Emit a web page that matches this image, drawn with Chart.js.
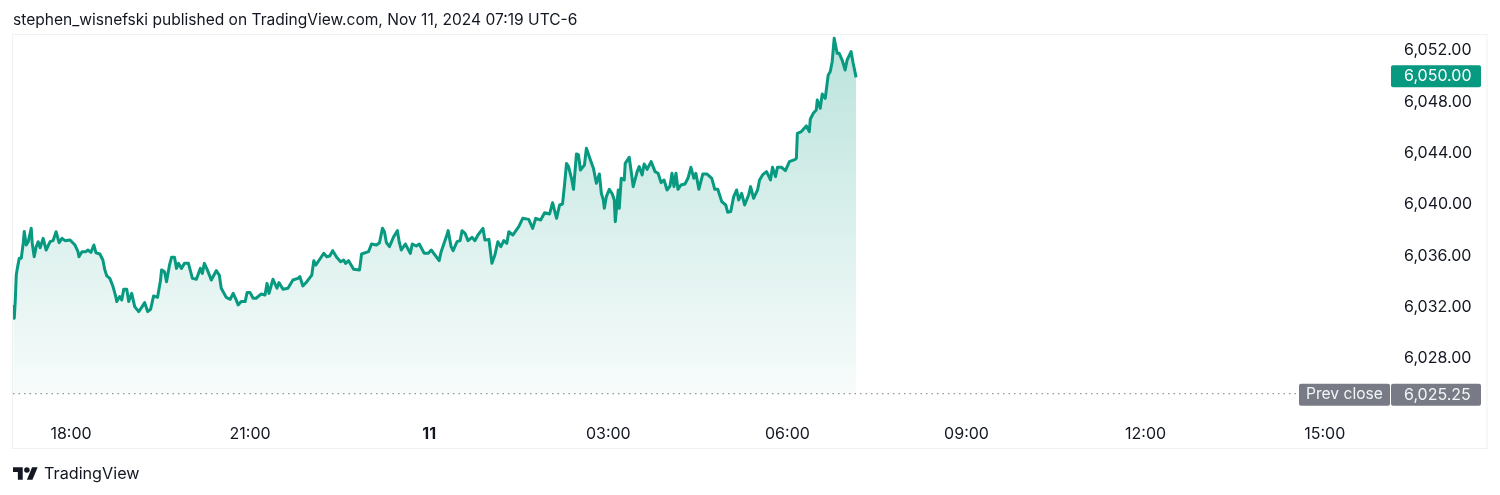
<!DOCTYPE html>
<html>
<head>
<meta charset="utf-8">
<title>ES price chart</title>
<script src="https://cdn.jsdelivr.net/npm/chart.js@4"></script>
<style>
  html, body { margin: 0; padding: 0; background: #fff; }
  body { width: 1500px; height: 495px; position: relative; overflow: hidden; font-family: Inter, sans-serif; color: #131722; }
  #wrap { position: absolute; left: 0; top: 0; width: 1500px; height: 495px; }
  #published { position: absolute; left: 13px; top: 11px; font-size: 15.55px; line-height: 18px; white-space: nowrap; }
  #brand { position: absolute; left: 13px; top: 462px; height: 22px; display: flex; align-items: center; }
  #brand svg { width: 25px; height: 13px; margin-right: 6px; }
  #brand span { font-size: 16.2px; line-height: 22px; }
</style>
</head>
<body>
<div id="wrap"><canvas id="chart" width="1500" height="495"></canvas></div>
<div id="published">stephen_wisnefski published on TradingView.com, Nov 11, 2024 07:19 UTC-6</div>
<div id="brand">
  <svg viewBox="0 4 36 18"><path fill="#131722" d="M14 22H7V11H0V4h14v18zM28 22h-8l7.5-18h8L28 22z"/><circle fill="#131722" cx="20" cy="8" r="4"/></svg>
  <span>TradingView</span>
</div>
<script>
// minutes counted from 18:00 on Nov 10
const minutes = [
  -58,-57,-56,-55,-54,-52,-50,-48,-47,-45,-43,-40,-39,-37,-35,-33,-31,-28,-25,-21,
  -18,-15,-12,-9,-6,-1,4,7,8,11,15,17,20,23,25,29,32,34,36,39,
  42,45,46,49,51,53,56,58,61,64,68,71,74,77,80,83,87,90,91,94,
  96,99,101,104,106,108,111,114,118,122,126,130,132,134,137,141,146,149,151,156,
  160,163,166,168,171,175,177,180,183,186,191,195,197,199,203,207,209,213,218,223,
  228,230,233,237,242,244,246,250,254,257,260,263,267,271,274,276,279,284,290,292,
  299,302,307,310,313,315,317,320,324,328,330,332,336,341,343,347,350,355,359,362,
  367,370,372,377,379,382,384,388,391,393,396,399,403,406,409,414,416,420,423,426,
  429,432,435,438,440,444,450,454,460,464,467,472,476,481,484,488,491,
  494,496,498,500,503,505,508,510,512,516,518,522,525,528,531,533,535,536,538,541,
  544,546,547,550,551,553,556,557,561,563,565,569,571,574,576,579,583,587,590,593,
  596,599,602,604,606,608,610,613,617,620,623,626,628,631,635,639,644,647,650,654,
  658,660,663,666,669,671,674,677,681,683,686,690,692,695,699,703,705,708,710,714,
  718,722,728,729,730,734,739,742,743,746,749,750,753,755,758,761,763,765,767,770,
  772,775,778,780,784,786,789
];
const prices = [
  6032.17,6031.13,6032.56,6034.5,6035.0,6035.8,6035.8,6037.0,6037.9,6036.84,6037.1,6038.14,6037.0,6035.93,6036.7,6037.1,6036.63,6037.36,6036.45,6037.1,
  6037.18,6037.88,6037.02,6037.36,6037.18,6037.23,6036.84,6036.32,6035.93,6036.32,6036.32,6036.45,6036.27,6036.84,6036.24,6036.14,6035.67,6034.9,6034.43,6034.24,
  6033.65,6032.82,6032.43,6032.82,6032.56,6033.39,6033.39,6032.43,6033.07,6032.04,6031.65,6031.98,6032.35,6031.65,6031.83,6032.87,6032.76,6034.11,6034.9,6034.76,
  6033.98,6035.28,6035.88,6035.88,6035.02,6035.41,6035.02,6035.41,6035.41,6034.24,6034.17,6035.02,6034.63,6035.41,6034.9,6034.11,6034.84,6034.5,6033.47,6032.76,
  6032.61,6033.07,6032.56,6032.17,6032.43,6032.43,6033.13,6033.13,6032.69,6032.69,6033.02,6032.95,6033.85,6033.07,6034.17,6033.47,6033.91,6033.39,6033.47,6034.11,
  6034.24,6034.37,6033.65,6033.98,6034.5,6035.62,6035.28,6035.73,6036.19,6035.93,6035.98,6036.4,6035.88,6035.54,6035.67,6035.41,6035.62,6034.95,6034.9,6036.14,
  6036.32,6036.92,6036.84,6037.02,6038.14,6037.88,6037.02,6036.71,6037.44,6037.96,6037.02,6036.45,6036.92,6036.19,6036.92,6036.76,6036.92,6036.19,6036.19,6036.45,
  6035.93,6035.62,6036.32,6037.44,6037.96,6036.71,6036.4,6037.1,6037.18,6037.96,6037.75,6037.18,6037.44,6037.18,6037.62,6038.14,6037.23,6037.28,6035.41,6036.06,
  6037.1,6036.71,6037.18,6036.97,6037.88,6037.62,6038.27,6038.92,6038.84,6038.14,6038.92,6038.79,6039.36,6039.26,6040.14,6038.92,6039.96,
  6040.04,6041.52,6043.2,6042.95,6042.04,6041.18,6043.94,6043.86,6042.69,6043.08,6044.38,6043.47,6042.82,6041.65,6042.38,6040.87,6040.35,6039.7,6040.61,6041.18,
  6040.82,6040.35,6038.66,6041.13,6039.7,6042.04,6041.91,6043.2,6043.68,6042.56,6041.39,6042.56,6042.95,6042.3,6043.16,6042.74,6043.34,6042.56,6042.43,6041.7,
  6041.91,6041.13,6041.44,6042.43,6041.39,6042.43,6041.18,6041.52,6041.6,6042.04,6042.9,6042.04,6042.43,6041.18,6042.38,6042.38,6042.04,6041.18,6041.18,6040.22,
  6039.96,6039.39,6039.44,6040.61,6041.13,6040.35,6040.87,6039.96,6040.74,6041.39,6040.48,6041.13,6041.91,6042.3,6042.56,6041.91,6042.9,6042.17,6042.9,6042.9,
  6042.64,6043.34,6043.52,6043.6,6045.55,6045.68,6046.12,6045.68,6046.64,6047.11,6047.36,6048.14,6047.5,6048.61,6048.27,6050.09,6050.35,6051.13,6052.95,6051.78,
  6051.78,6051.26,6050.48,6051.26,6051.91,6051.05,6049.91
];
const tickMinutes = [0, 180, 360, 540, 720, 900, 1080, 1260];
const tickLabels = ['18:00', '21:00', '11', '03:00', '06:00', '09:00', '12:00', '15:00'];
const priceTicks = [6028, 6032, 6036, 6040, 6044, 6048, 6052];
const lastPrice = 6050;
const prevClose = 6025.25;

const GREEN = '#089981';
const GREY = '#787b86';
const INK = '#131722';
const X_MIN = -58.3, X_MAX = 1325.6;
const Y_MIN = 6023.59, Y_MAX = 6053.21;

function fmtPrice(v) {
  return v.toLocaleString('en-US', { minimumFractionDigits: 2, maximumFractionDigits: 2 });
}

function badge(ctx, left, right, midY, color, text, textColor, textX, font) {
  ctx.fillStyle = color;
  ctx.beginPath();
  ctx.roundRect(left, midY - 11, right - left, 22, 2);
  ctx.fill();
  ctx.fillStyle = textColor;
  ctx.font = font;
  ctx.textBaseline = 'middle';
  ctx.textAlign = 'left';
  ctx.fillText(text, textX, midY);
}

// frame around the pane and the two price tags on the right
const decorations = {
  id: 'decorations',
  afterDraw(chart) {
    const { ctx, chartArea, scales } = chart;
    ctx.save();
    ctx.strokeStyle = '#eef3f2';
    ctx.lineWidth = 1;
    ctx.strokeRect(12.5, chartArea.top - 0.5, 1487 - 12.5, scales.x.bottom - chartArea.top);
    badge(ctx, 1391, 1481, scales.y.getPixelForValue(lastPrice), GREEN, fmtPrice(lastPrice), '#fff', 1404, '16px Inter');
    const py = scales.y.getPixelForValue(prevClose) + 1;
    badge(ctx, 1299, 1390, py, GREY, 'Prev close', '#f0f6f5', 1306, '15.6px Inter');
    badge(ctx, 1391, 1481, py, GREY, fmtPrice(prevClose), '#f0f6f5', 1404, '16px Inter');
    ctx.restore();
  },
};

new Chart(document.getElementById('chart').getContext('2d'), {
  type: 'line',
  data: {
    datasets: [
      {
        data: prices.map((p, i) => ({ x: minutes[i], y: p })),
        borderColor: GREEN,
        borderWidth: 3,
        borderJoinStyle: 'round',
        pointRadius: 0,
        tension: 0,
        fill: { value: prevClose },
        backgroundColor(c) {
          const area = c.chart.chartArea;
          if (!area) return 'transparent';
          const g = c.chart.ctx.createLinearGradient(0, area.top, 0, area.bottom - 22);
          g.addColorStop(0, 'rgba(8,153,129,0.28)');
          g.addColorStop(1, 'rgba(8,153,129,0.03)');
          return g;
        },
      },
      {
        data: [{ x: X_MIN, y: prevClose }, { x: X_MAX, y: prevClose }],
        borderColor: GREY,
        borderWidth: 1,
        borderDash: [1.5, 4],
        pointRadius: 0,
        fill: false,
      },
    ],
  },
  options: {
    responsive: false,
    animation: false,
    events: [],
    layout: { padding: { left: 13, right: 28, top: 35, bottom: 46 } },
    plugins: { legend: { display: false }, tooltip: { enabled: false } },
    scales: {
      x: {
        type: 'linear',
        min: X_MIN,
        max: X_MAX,
        grid: { display: false, drawTicks: false },
        border: { display: false },
        afterBuildTicks(scale) { scale.ticks = tickMinutes.map(v => ({ value: v })); },
        afterFit(scale) { scale.height = 34; },
        ticks: {
          autoSkip: false,
          maxRotation: 0,
          padding: 10,
          color: INK,
          font: c => (c.tick && c.tick.value === 360
            ? { family: 'Inter', size: 16, weight: 'bold' }
            : { family: 'Inter', size: 16 }),
          callback: v => tickLabels[tickMinutes.indexOf(v)],
        },
      },
      y: {
        position: 'right',
        min: Y_MIN,
        max: Y_MAX,
        grid: { display: false, drawTicks: false },
        border: { display: false },
        afterBuildTicks(scale) { scale.ticks = priceTicks.map(v => ({ value: v })); },
        afterFit(scale) { scale.width = 82; },
        ticks: {
          padding: 14,
          color: INK,
          font: { family: 'Inter', size: 16 },
          callback: v => fmtPrice(v),
        },
      },
    },
  },
  plugins: [decorations],
});
</script>
</body>
</html>
